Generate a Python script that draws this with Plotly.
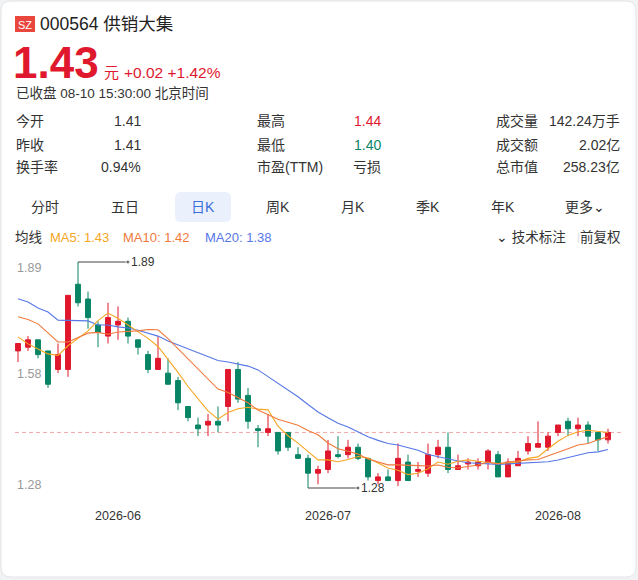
import plotly.graph_objects as go
import pandas as pd

# ---------------- data ----------------
dates = [
    "2026-05-18", "2026-05-19", "2026-05-20", "2026-05-21", "2026-05-22",
    "2026-05-25", "2026-05-26", "2026-05-27", "2026-05-28", "2026-05-29",
    "2026-06-01", "2026-06-02", "2026-06-03", "2026-06-04", "2026-06-05",
    "2026-06-08", "2026-06-09", "2026-06-10", "2026-06-11", "2026-06-12",
    "2026-06-15", "2026-06-16", "2026-06-17", "2026-06-18", "2026-06-22",
    "2026-06-23", "2026-06-24", "2026-06-25", "2026-06-26", "2026-06-29",
    "2026-06-30", "2026-07-01", "2026-07-02", "2026-07-03", "2026-07-06",
    "2026-07-07", "2026-07-08", "2026-07-09", "2026-07-10", "2026-07-13",
    "2026-07-14", "2026-07-15", "2026-07-16", "2026-07-17", "2026-07-20",
    "2026-07-21", "2026-07-22", "2026-07-23", "2026-07-24", "2026-07-27",
    "2026-07-28", "2026-07-29", "2026-07-30", "2026-07-31", "2026-08-03",
    "2026-08-04", "2026-08-05", "2026-08-06", "2026-08-07", "2026-08-10",
]
opens = [1.65, 1.66, 1.68, 1.65, 1.60, 1.60, 1.83, 1.79, 1.72, 1.69,
         1.72, 1.73, 1.68, 1.64, 1.60, 1.59, 1.57, 1.50, 1.45, 1.45,
         1.46, 1.50, 1.60, 1.53, 1.44, 1.43, 1.43, 1.43, 1.37, 1.36,
         1.32, 1.33, 1.37, 1.37, 1.39, 1.36, 1.30, 1.31, 1.30, 1.35,
         1.325, 1.32, 1.37, 1.39, 1.33, 1.345, 1.34, 1.35, 1.37, 1.31,
         1.34, 1.38, 1.39, 1.39, 1.43, 1.46, 1.44, 1.45, 1.43, 1.41]
highs = [1.67, 1.69, 1.68, 1.65, 1.67, 1.80, 1.89, 1.81, 1.73, 1.78,
         1.77, 1.74, 1.68, 1.65, 1.69, 1.63, 1.58, 1.50, 1.47, 1.48,
         1.50, 1.60, 1.62, 1.55, 1.45, 1.48, 1.43, 1.43, 1.39, 1.37,
         1.34, 1.41, 1.42, 1.41, 1.40, 1.36, 1.32, 1.33, 1.40, 1.37,
         1.35, 1.40, 1.41, 1.43, 1.37, 1.36, 1.36, 1.385, 1.38, 1.36,
         1.38, 1.42, 1.46, 1.43, 1.45, 1.47, 1.47, 1.46, 1.43, 1.44]
lows = [1.62, 1.65, 1.63, 1.55, 1.59, 1.58, 1.77, 1.71, 1.66, 1.67,
        1.68, 1.67, 1.64, 1.59, 1.60, 1.56, 1.49, 1.46, 1.42, 1.42,
        1.43, 1.46, 1.51, 1.44, 1.39, 1.42, 1.37, 1.38, 1.36, 1.28,
        1.29, 1.32, 1.36, 1.36, 1.355, 1.30, 1.29, 1.30, 1.285, 1.30,
        1.31, 1.31, 1.36, 1.32, 1.33, 1.33, 1.33, 1.33, 1.31, 1.31,
        1.34, 1.37, 1.39, 1.38, 1.42, 1.42, 1.42, 1.40, 1.38, 1.40]
closes = [1.67, 1.68, 1.64, 1.56, 1.64, 1.80, 1.78, 1.74, 1.70, 1.74,
          1.73, 1.69, 1.66, 1.60, 1.63, 1.56, 1.51, 1.47, 1.44, 1.46,
          1.45, 1.60, 1.52, 1.46, 1.435, 1.44, 1.38, 1.39, 1.36, 1.32,
          1.33, 1.38, 1.365, 1.39, 1.36, 1.31, 1.31, 1.30, 1.36, 1.30,
          1.33, 1.37, 1.39, 1.33, 1.34, 1.35, 1.35, 1.38, 1.31, 1.35,
          1.36, 1.40, 1.40, 1.42, 1.45, 1.44, 1.45, 1.42, 1.41, 1.43]

# moving-average values at the left edge (window reaches before the first visible day)
ma5_head = [1.688, 1.669, 1.655, 1.642]
ma10_head = [1.742, 1.735, 1.723, 1.698, 1.674, 1.674, 1.685, 1.698, 1.700]
ma20_head = [1.791, 1.782, 1.766, 1.755, 1.733, 1.732, 1.732, 1.731, 1.720,
             1.720, 1.715, 1.712, 1.706, 1.698, 1.690, 1.677, 1.666, 1.655, 1.644]

month_ticks = ["2026-06-01", "2026-07-01", "2026-08-03"]
month_labels = ["2026-06", "2026-07", "2026-08"]
yaxis_labels = [1.89, 1.58, 1.28]

stock_code = "000564"
stock_name = "供销大集"
last_price = 1.43
change = "+0.02"
change_pct = "+1.42%"
status = "已收盘 08-10 15:30:00 北京时间"
stats = [
    [("今开", "1.41"), ("最高", "1.44"), ("成交量", "142.24万手")],
    [("昨收", "1.41"), ("最低", "1.40"), ("成交额", "2.02亿")],
    [("换手率", "0.94%"), ("市盈(TTM)", "亏损"), ("总市值", "258.23亿")],
]
tabs = ["分时", "五日", "日K", "周K", "月K", "季K", "年K", "更多⌄"]
active_tab = "日K"

# ---------------- derived ----------------
s = pd.Series(closes)
def ma(n, head):
    vals = s.rolling(n).mean().tolist()
    return head + vals[len(head):]
ma5 = ma(5, ma5_head)
ma10 = ma(10, ma10_head)
ma20 = ma(20, ma20_head)
x = list(range(len(dates)))

RED = "#e0182d"
GREEN = "#088565"
C_MA5 = "#f5a623"
C_MA10 = "#f07a3c"
C_MA20 = "#5677e6"
FONT = "Liberation Sans, Noto Sans CJK SC, sans-serif"

W, H = 638, 580
L, R, T, B = 15, 622, 255, 495

def px(xp):
    return (xp - L) / (R - L)
def py(yp):
    return (B - yp) / (B - T)

fig = go.Figure()

fig.add_trace(go.Candlestick(
    x=x, open=opens, high=highs, low=lows, close=closes,
    increasing=dict(line=dict(color=RED, width=1), fillcolor=RED),
    decreasing=dict(line=dict(color=GREEN, width=1), fillcolor=GREEN),
    hoverinfo="skip", showlegend=False,
))
for vals, col in [(ma20, C_MA20), (ma5, C_MA5), (ma10, C_MA10)]:
    fig.add_trace(go.Scatter(x=x, y=vals, mode="lines",
                             line=dict(color=col, width=1.1),
                             hoverinfo="skip", showlegend=False))

# max / min markers
imax = max(range(len(highs)), key=lambda i: highs[i])
imin = min(range(len(lows)), key=lambda i: lows[i])
annotations = []
for i, v in [(imax, highs[imax]), (imin, lows[imin])]:
    fig.add_trace(go.Scatter(x=[i, i + 5], y=[v, v], mode="lines+markers",
                             line=dict(color="#444", width=1),
                             marker=dict(size=[0, 4], color="#444"),
                             hoverinfo="skip", showlegend=False))
    annotations.append(dict(x=i + 5, y=v, xref="x", yref="y", text=f"{v:.2f}",
                            showarrow=False, xanchor="left", xshift=1,
                            font=dict(size=12, color="#333", family=FONT)))

# y labels inside the plot
for v, sh in zip(yaxis_labels, [-6, 3, 3]):
    annotations.append(dict(x=0, y=v, xref="paper", yref="y", text=f"{v:.2f}",
                            showarrow=False, xanchor="left", yshift=sh,
                            font=dict(size=12.5, color="#999", family=FONT)))

def txt(xp, yp, text, size=13.5, color="#333", anchor="left", bold=False):
    if bold:
        text = f"<b>{text}</b>"
    annotations.append(dict(x=px(xp), y=py(yp), xref="paper", yref="paper",
                            text=text, showarrow=False, xanchor=anchor,
                            yanchor="middle",
                            font=dict(size=size, color=color, family=FONT)))

# header
txt(38, 24, f"{stock_code} {stock_name}", size=17.5, color="#222")
txt(11, 62, f"{last_price:.2f}", size=44, color=RED, bold=True)
txt(102, 72, "元", size=15, color=RED)
txt(122, 72, f"{change} {change_pct}", size=15.5, color=RED)
txt(14, 93, status, size=13.5, color="#333")

# stats grid
row_y = [121, 145, 167]
col_label_x = [14, 255, 494]
col_value_x = [143, 383, 622]
for r, row in enumerate(stats):
    for c, (lab, val) in enumerate(row):
        txt(col_label_x[c], row_y[r], lab, size=14)
        vc = "#333"
        if lab == "最高":
            vc = RED
        elif lab == "最低":
            vc = GREEN
        txt(col_value_x[c], row_y[r], val, size=14, color=vc, anchor="right")

# tabs
tab_x = [45, 125, 203, 278, 353, 428, 503, 585]
shapes = []
for t, tx in zip(tabs, tab_x):
    if t == active_tab:
        x0, x1, y0, y1, rr = 175, 231, 192, 222, 6
        path = (f"M {px(x0+rr)} {py(y0)} L {px(x1-rr)} {py(y0)} "
                f"Q {px(x1)} {py(y0)} {px(x1)} {py(y0+rr)} L {px(x1)} {py(y1-rr)} "
                f"Q {px(x1)} {py(y1)} {px(x1-rr)} {py(y1)} L {px(x0+rr)} {py(y1)} "
                f"Q {px(x0)} {py(y1)} {px(x0)} {py(y1-rr)} L {px(x0)} {py(y0+rr)} "
                f"Q {px(x0)} {py(y0)} {px(x0+rr)} {py(y0)} Z")
        shapes.append(dict(type="path", xref="paper", yref="paper", path=path,
                           fillcolor="#eaf1fd", line=dict(width=0), layer="below"))
        txt(tx, 207, t, size=14, color="#3b6fd9", anchor="center")
    else:
        txt(tx, 207, t, size=14, color="#333", anchor="center")

# MA legend row
txt(13, 237, "均线", size=13.5, color="#333")
txt(48, 237, f"MA5: {ma5[-1]:.2f}", size=13, color=C_MA5)
txt(121, 237, f"MA10: {ma10[-1]:.2f}", size=13, color=C_MA10)
txt(203, 237, f"MA20: {ma20[-1]:.2f}", size=13, color=C_MA20)
txt(568, 237, "⌄ 技术标注", size=13.5, color="#333", anchor="right")
txt(578, 237, "|", size=11, color="#ddd", anchor="center")
txt(623, 237, "前复权", size=13.5, color="#333", anchor="right")

# card background
cx0, cy0, cx1, cy1, cr = 1, 1, 636, 577, 10
card = (f"M {px(cx0+cr)} {py(cy0)} L {px(cx1-cr)} {py(cy0)} "
        f"Q {px(cx1)} {py(cy0)} {px(cx1)} {py(cy0+cr)} L {px(cx1)} {py(cy1-cr)} "
        f"Q {px(cx1)} {py(cy1)} {px(cx1-cr)} {py(cy1)} L {px(cx0+cr)} {py(cy1)} "
        f"Q {px(cx0)} {py(cy1)} {px(cx0)} {py(cy1-cr)} L {px(cx0)} {py(cy0+cr)} "
        f"Q {px(cx0)} {py(cy0)} {px(cx0+cr)} {py(cy0)} Z")
shapes.insert(0, dict(type="path", xref="paper", yref="paper", path=card,
                      fillcolor="white", line=dict(color="#e4e5e8", width=1),
                      layer="below"))
# SZ badge
shapes.append(dict(type="rect", xref="paper", yref="paper",
                   x0=px(15), x1=px(35), y0=py(16), y1=py(32),
                   fillcolor="#e9463d", line=dict(width=0)))
annotations.append(dict(x=px(25), y=py(24.5), xref="paper", yref="paper", text="SZ",
                        showarrow=False, xanchor="center", yanchor="middle",
                        font=dict(size=11, color="white", family=FONT)))

# last price dashed line
shapes.append(dict(type="line", xref="paper", yref="y", x0=0, x1=1,
                   y0=closes[-1], y1=closes[-1],
                   line=dict(color="#f2a7a7", width=1, dash="4px,3px"),
                   layer="below"))

# y range: 1.89 at px 262, 1.28 at px 488
k = (488 - 262) / (1.89 - 1.28)
y_top = 1.89 + (262 - T) / k
y_bot = 1.28 - (B - 488) / k

fig.update_layout(
    width=W, height=H,
    margin=dict(l=L, r=W - R, t=T, b=H - B, pad=0),
    paper_bgcolor="#f1f2f4",
    plot_bgcolor="rgba(0,0,0,0)",
    font=dict(family=FONT),
    shapes=shapes,
    annotations=annotations,
    xaxis=dict(
        range=[-0.3, 60.4], rangeslider=dict(visible=False),
        showgrid=False, zeroline=False, showline=False,
        tickmode="array",
        tickvals=[dates.index(d) for d in month_ticks],
        ticktext=month_labels,
        ticks="outside", ticklen=9, tickcolor="rgba(0,0,0,0)",
        tickfont=dict(size=12.5, color="#333", family=FONT),
        fixedrange=True,
    ),
    yaxis=dict(
        range=[y_bot, y_top], showgrid=False, zeroline=False,
        showline=False, showticklabels=False, fixedrange=True,
    ),
    hovermode=False,
)

fig.write_html("out.html", config={"displayModeBar": False},
               post_script="document.body.style.margin='0';document.body.style.background='#f1f2f4';")
